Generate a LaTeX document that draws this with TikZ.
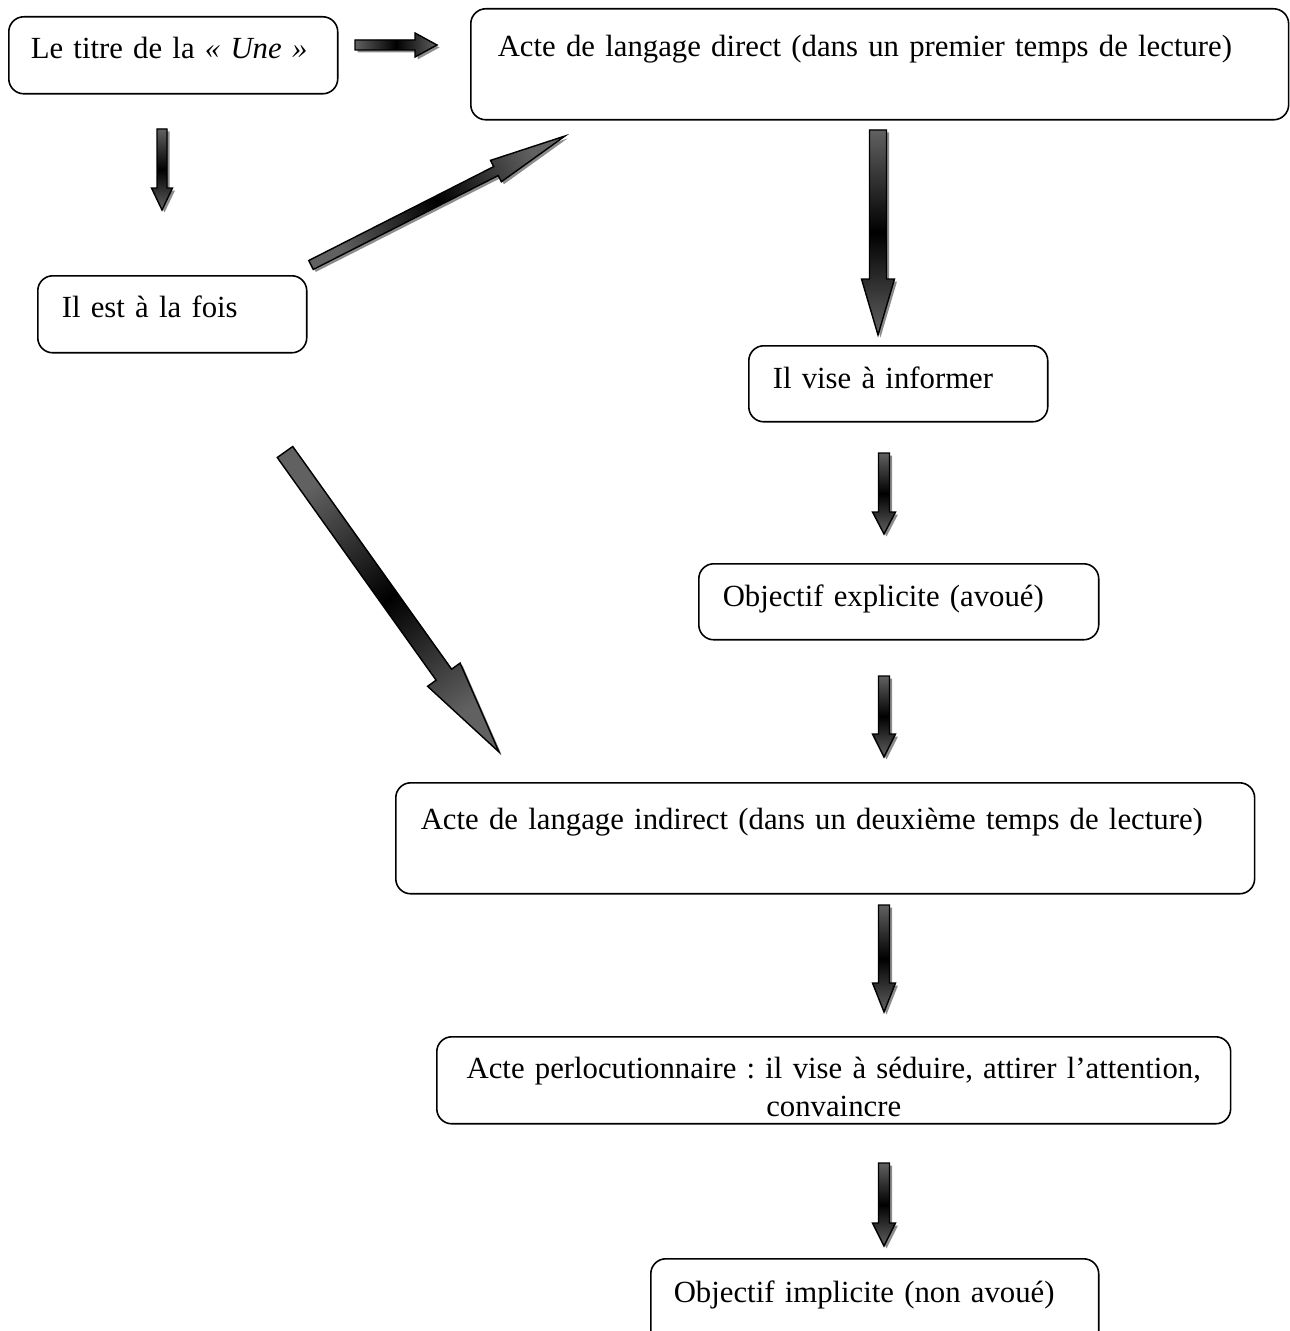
\documentclass[tikz,border=0pt]{standalone}
\usepackage{fontspec}
\setmainfont{Liberation Serif}
\usepackage{tikz}
\usetikzlibrary{calc,shadows}
\frenchspacing

% block arrow: start, end, shaft half width, head half width, head length, shading angle
\newcommand{\fatarrow}[6]{%
  \coordinate (hb) at ($(#2)!#5!(#1)$);
  \filldraw[arrow_style, shading angle=#6]
    ($(#1)!#3!90:(#2)$) -- ($(hb)!#3!90:(#2)$) -- ($(hb)!#4!90:(#2)$) -- (#2)
    -- ($(hb)!#4!-90:(#2)$) -- ($(hb)!#3!-90:(#2)$) -- ($(#1)!#3!-90:(#2)$) -- cycle;
}

\begin{document}
\begin{tikzpicture}[x=0.02cm, y=-0.02cm,
		box_style/.style={draw=black, line width=0.9pt, rounded corners=0.3cm, anchor=north west,
			inner ysep=0pt, align=left, font=\fontsize{17.5}{19.9}\selectfont},
		arrow_style/.style={draw=black, line width=0.8pt, line join=miter,
			top color=black!62, bottom color=black!62, middle color=black,
			drop shadow={shadow xshift=0.05cm, shadow yshift=-0.05cm, fill=black!45, opacity=1}}]

		\useasboundingbox (0,0) rectangle (1290,1331);

		\node[box_style, inner xsep=0.44cm, text width=5.70cm, text height=0.84cm, text depth=0.70cm] (titre) at (8,16) {Le titre de la \textit{«~Une~»}};
		\node[box_style, inner xsep=0.54cm, text width=15.28cm, text height=0.96cm, text depth=1.26cm] (direct) at (470,8) {Acte de langage direct (dans un premier temps de lecture)};
		\node[box_style, inner xsep=0.48cm, text width=4.42cm, text height=0.84cm, text depth=0.70cm] (fois) at (37,275) {Il est à la fois};
		\node[box_style, inner xsep=0.48cm, text width=5.02cm, text height=0.86cm, text depth=0.66cm] (informer) at (748,345) {Il vise à informer};
		\node[box_style, inner xsep=0.48cm, text width=7.04cm, text height=0.86cm, text depth=0.66cm] (explicite) at (698,563) {Objectif explicite (avoué)};
		\node[box_style, inner xsep=0.50cm, text width=16.18cm, text height=0.94cm, text depth=1.28cm] (indirect) at (395,782) {Acte de langage indirect (dans un deuxième temps de lecture)};
		\node[box_style, align=center, font=\fontsize{17.5}{21.6}\selectfont, inner xsep=0.20cm, text width=15.48cm, text height=0.84cm, text depth=0.90cm] (perlo) at (436,1036) {Acte perlocutionnaire : il vise à séduire, attirer l’attention,\\ convaincre};
		\node[box_style, inner xsep=0.46cm, text width=8.04cm, text height=0.88cm, text depth=0.86cm] (implicite) at (650,1258) {Objectif implicite (non avoué)};

		\coordinate (a1) at (355,45);  \coordinate (b1) at (437,45);
		\coordinate (a2) at (162,129); \coordinate (b2) at (162,210);
		\coordinate (a3) at (311,265); \coordinate (b3) at (565,136);
		\coordinate (a4) at (878,130); \coordinate (b4) at (878,335);
		\coordinate (a5) at (285,452); \coordinate (b5) at (499,752);
		\coordinate (a6) at (884,453); \coordinate (b6) at (884,534);
		\coordinate (a7) at (884,676); \coordinate (b7) at (884,757);
		\coordinate (a8) at (884,905); \coordinate (b8) at (884,1012);
		\coordinate (a9) at (884,1163); \coordinate (b9) at (884,1246);

		\fatarrow{a1}{b1}{0.10cm}{0.24cm}{0.44cm}{90}
		\fatarrow{a2}{b2}{0.10cm}{0.21cm}{0.44cm}{0}
		\fatarrow{a3}{b3}{0.10cm}{0.24cm}{1.55cm}{-63}
		\fatarrow{a4}{b4}{0.17cm}{0.33cm}{1.12cm}{0}
		\fatarrow{a5}{b5}{0.19cm}{0.40cm}{1.90cm}{35.5}
		\fatarrow{a6}{b6}{0.11cm}{0.23cm}{0.44cm}{0}
		\fatarrow{a7}{b7}{0.11cm}{0.23cm}{0.46cm}{0}
		\fatarrow{a8}{b8}{0.11cm}{0.23cm}{0.58cm}{0}
		\fatarrow{a9}{b9}{0.11cm}{0.23cm}{0.46cm}{0}

\end{tikzpicture}
\end{document}
